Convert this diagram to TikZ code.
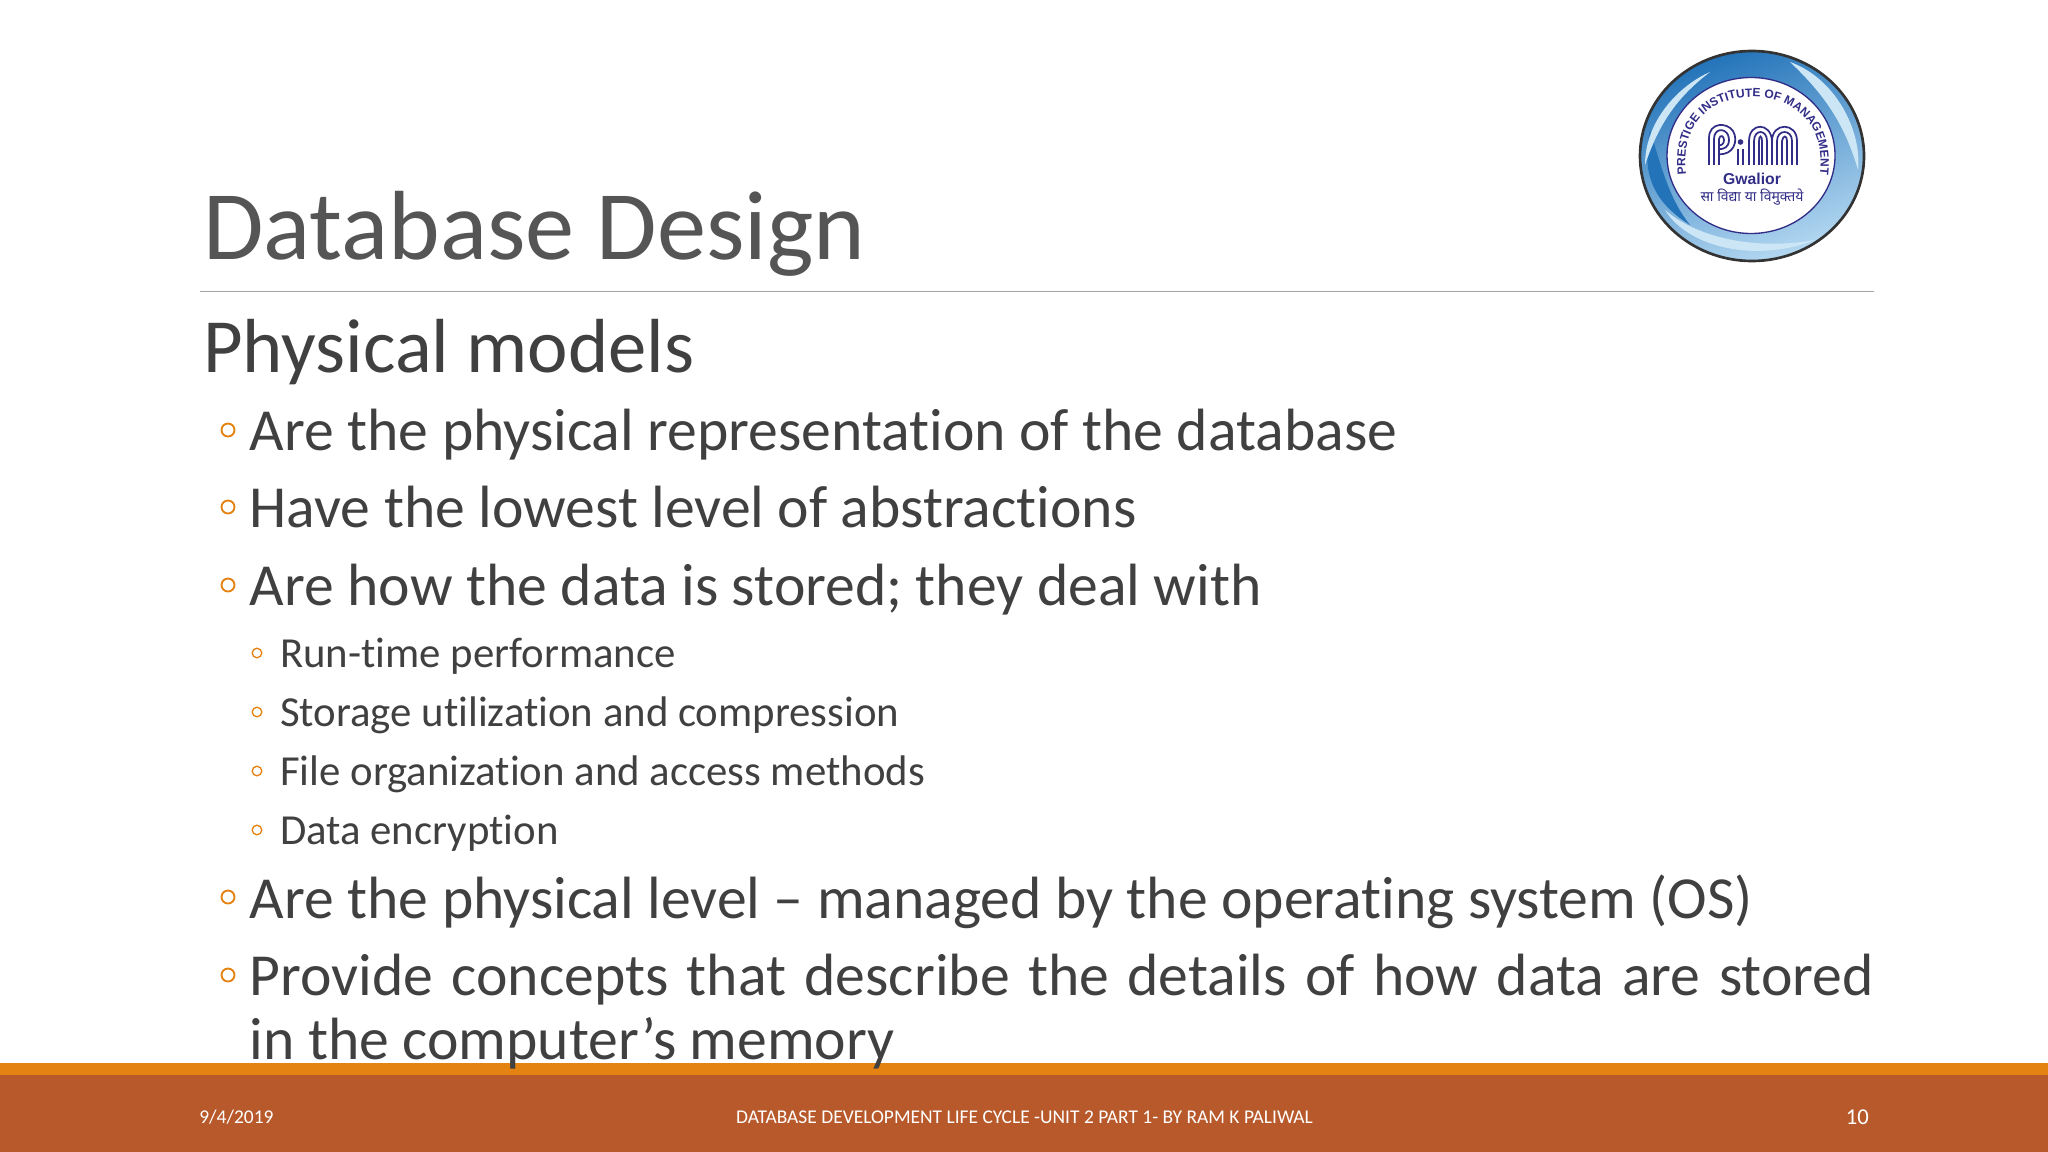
\documentclass[tikz,border=0pt]{standalone}
\usepackage{fontspec}
\setmainfont[Ligatures=NoCommon]{Carlito}
\newfontfamily\logosans{Liberation Sans}
\newfontfamily\hindifont[Script=Devanagari]{Noto Sans}
\usetikzlibrary{decorations.text}
\definecolor{bodygray}{RGB}{64,64,64}
\definecolor{titlegray}{RGB}{85,85,85}
\definecolor{bulletorange}{RGB}{228,131,18}
\definecolor{footerbrown}{RGB}{184,89,43}
\definecolor{logonavy}{RGB}{50,45,135}
\definecolor{ringblue}{RGB}{130,190,232}
\definecolor{ringdeep}{RGB}{35,115,185}
\definecolor{ringpale}{RGB}{205,230,246}
\tikzset{
  maintext/.style={anchor=base west,inner sep=0pt,text=bodygray,font=\fontsize{44.75}{48}\selectfont},
  subtext/.style={anchor=base west,inner sep=0pt,text=bodygray,font=\fontsize{32.1}{36}\selectfont},
  foottext/.style={inner sep=0pt,text=white,font=\fontsize{14.6}{18}\selectfont},
  mainbullet/.style={draw=bulletorange,line width=1.4pt},
  subbullet/.style={draw=bulletorange,line width=1pt},
  pimline/.style={draw=logonavy,line width=1.3pt}
}
\begin{document}
\begin{tikzpicture}[x=0.75pt,y=0.75pt,yscale=-1,xscale=1]
\useasboundingbox (0,0) rectangle (2048,1152);
\fill[white] (0,0) rectangle (2048,1152);

%Shape: Footer bars
\fill[footerbrown] (0,1075) rectangle (2048,1152);
\fill[bulletorange] (0,1063) rectangle (2048,1075);
%Straight Lines: title rule
\draw[color={rgb, 255:red, 165; green, 165; blue, 165},line width=1pt] (200,291.5) -- (1874,291.5);

% Text Node
\draw (203,259) node (title) [anchor=base west,inner sep=0pt,text=titlegray,font=\fontsize{73.7}{78}\selectfont] {Database Design};
% Text Node
\draw (203,372) node (heading) [anchor=base west,inner sep=0pt,text=bodygray,font=\fontsize{57.5}{60}\selectfont] {Physical models};

%Shape: Circle bullets
\draw[mainbullet] (228,430) circle (6.5);
\draw[mainbullet] (228,507) circle (6.5);
\draw[mainbullet] (228,585) circle (6.5);
\draw[subbullet] (257,653) circle (4.8);
\draw[subbullet] (257,712) circle (4.8);
\draw[subbullet] (257,771) circle (4.8);
\draw[subbullet] (257,830) circle (4.8);
\draw[mainbullet] (228,897) circle (6.5);
\draw[mainbullet] (228,975) circle (6.5);

% Text Node
\draw (249.5,450) node (itemone) [maintext] {Are the physical representation of the database};
% Text Node
\draw (249.5,527) node (itemtwo) [maintext] {Have the lowest level of abstractions};
% Text Node
\draw (249.5,605) node (itemthree) [maintext] {Are how the data is stored; they deal with};
% Text Node
\draw (280,667) node (subone) [subtext] {Run-time performance};
% Text Node
\draw (280,726) node (subtwo) [subtext] {Storage utilization and compression};
% Text Node
\draw (280,785) node (subthree) [subtext] {File organization and access methods};
% Text Node
\draw (280,844) node (subfour) [subtext] {Data encryption};
% Text Node
\draw (249.5,918) node (itemfour) [maintext] {Are the physical level -- managed by the operating system (OS)};
% Text Node
\draw (249.5,995) node (itemfive) [maintext] {\makebox[1218pt][s]{Provide concepts that describe the details of how data are stored}};
% Text Node
\draw (249.5,1059) node (itemfivemore) [maintext] {in the computer’s memory};

% Text Node
\draw (199,1117) node (datelabel) [foottext,anchor=west] {9/4/2019};
% Text Node
\draw (1024.5,1117) node (footerlabel) [foottext] {DATABASE DEVELOPMENT LIFE CYCLE -UNIT 2 PART 1- BY RAM K PALIWAL};
% Text Node
\draw (1869,1117) node (pagelabel) [foottext,anchor=east,font=\fontsize{17}{18}\selectfont] {10};

%Shape: Logo ring
\draw[draw=black!80,line width=2pt,left color=ringdeep,right color=ringblue!60,shading angle=20] (1752,156) ellipse (112 and 105);
\fill[ringdeep] (1650,130) .. controls (1642,170) and (1650,200) .. (1690,225) .. controls (1670,200) and (1662,170) .. (1650,130) -- cycle ;
\fill[ringpale] (1645,165) .. controls (1645,120) and (1680,85) .. (1710,72) .. controls (1680,95) and (1660,120) .. (1645,165) -- cycle ;
\fill[ringpale] (1790,62) .. controls (1835,78) and (1862,130) .. (1858,170) .. controls (1845,125) and (1825,95) .. (1790,62) -- cycle ;
\fill[ringpale] (1665,210) .. controls (1690,250) and (1760,262) .. (1815,240) .. controls (1760,250) and (1700,240) .. (1665,210) -- cycle ;
\draw[draw=logonavy,line width=1pt,fill=white] (1751,155.5) ellipse (84 and 78);

%Curve Lines: logo lettering
\path[decorate,decoration={text along path,text align=center,
  text={|\logosans\bfseries\fontsize{9}{10}\selectfont\color{logonavy}|PRESTIGE INSTITUTE OF MANAGEMENT}}]
  (1686,174) .. controls (1680,120) and (1715,97) .. (1752,97) .. controls (1790,97) and (1826,120) .. (1820,174);

%Shape: P
\draw[pimline] (1709,165) -- (1709,138) .. controls (1709,122) and (1727,122) .. (1733,131) .. controls (1739,141) and (1733,156) .. (1718,154);
\draw[pimline] (1714,165) -- (1714,139) .. controls (1714,128) and (1725,128) .. (1728,135) .. controls (1731,143) and (1727,150) .. (1718,149);
\draw[pimline] (1719,165) -- (1719,139) .. controls (1720,134) and (1724,136) .. (1724,140) .. controls (1724,144) and (1721,146) .. (1719,145);
%Shape: i
\draw[pimline] (1738,165) -- (1738,149);
\draw[pimline] (1743,165) -- (1743,149);
\fill[logonavy] (1740.5,142) circle (2.8);
%Shape: m
\draw[pimline] (1749,165) -- (1749,141) .. controls (1749,122) and (1771,122) .. (1772,141) -- (1772,165);
\draw[pimline] (1754,165) -- (1754,141) .. controls (1754,129) and (1767,129) .. (1767,141) -- (1767,165);
\draw[pimline] (1759,165) -- (1759,141) .. controls (1759,135) and (1762,135) .. (1762,141) -- (1762,165);
\draw[pimline] (1772,141) .. controls (1772,122) and (1797,122) .. (1797,141) -- (1797,165);
\draw[pimline] (1777,165) -- (1777,141) .. controls (1777,129) and (1792,129) .. (1792,141) -- (1792,165);
\draw[pimline] (1782,165) -- (1782,141) .. controls (1783,135) and (1787,135) .. (1787,141) -- (1787,165);

% Text Node
\draw (1752,179) node (gwaliorlabel) [inner sep=0pt,text=logonavy,font=\logosans\bfseries\fontsize{11.8}{13}\selectfont] {Gwalior};
% Text Node
\draw (1752,197) node (mottolabel) [inner sep=0pt,text=logonavy,font=\hindifont\fontsize{10.5}{12}\selectfont] {सा विद्या या विमुक्तये};

\end{tikzpicture}
\end{document}
